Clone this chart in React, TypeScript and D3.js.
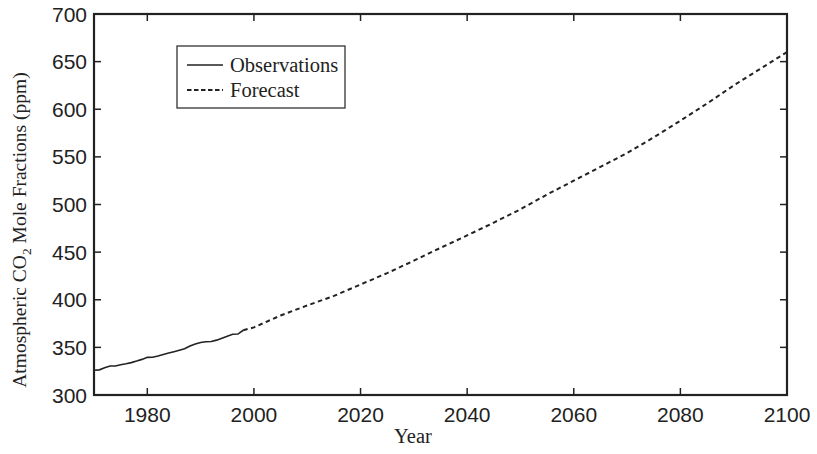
import React from "react";
import * as d3 from "d3";

const obsYears = [1970, 1971, 1972, 1973, 1974, 1975, 1976, 1977, 1978, 1979, 1980, 1981, 1982, 1983, 1984, 1985, 1986, 1987, 1988, 1989, 1990, 1991, 1992, 1993, 1994, 1995, 1996, 1997, 1998];
const obsValues = [326.0, 326.4, 328.5, 330.4, 330.5, 331.8, 332.8, 334.0, 335.6, 337.4, 339.5, 339.7, 341.0, 342.5, 344.0, 345.5, 347.0, 348.5, 351.5, 353.5, 355.2, 355.9, 356.2, 357.6, 359.6, 361.6, 363.7, 364.0, 368.0];

const fcYears = [1998, 2000, 2005, 2010, 2015, 2020, 2025, 2030, 2035, 2040, 2045, 2050, 2055, 2060, 2065, 2070, 2075, 2080, 2085, 2090, 2095, 2100];
const fcValues = [368, 371, 383.5, 394, 404, 416, 428, 441, 454.5, 467.5, 481, 495, 510.5, 525, 539.5, 554, 570.5, 588, 606, 625, 642.5, 660];

const xTicks = [1980, 2000, 2020, 2040, 2060, 2080, 2100];
const yTicks = [300, 350, 400, 450, 500, 550, 600, 650, 700];

const W = 817;
const H = 454;
const left = 94;
const right = 787;
const top = 14;
const bottom = 395;
const ink = "#222";

export default function App() {
  const x = d3.scaleLinear().domain([1970, 2100]).range([left, right]);
  const y = d3.scaleLinear().domain([300, 700]).range([bottom, top]);

  const line = d3
    .line<[number, number]>()
    .x((d) => x(d[0]))
    .y((d) => y(d[1]));

  const obs = obsYears.map((yr, i) => [yr, obsValues[i]] as [number, number]);
  const fc = fcYears.map((yr, i) => [yr, fcValues[i]] as [number, number]);

  const sans = "'Liberation Sans', Arial, sans-serif";
  const serif = "'Liberation Serif', 'Times New Roman', serif";

  return (
    <svg width={W} height={H} style={{ position: "absolute", left: 0, top: 0, background: "#fff" }}>
      <rect x={0} y={0} width={W} height={H} fill="#fff" />

      {/* ticks on all four sides, pointing inward */}
      {xTicks.map((t) => (
        <g key={"x" + t}>
          <line x1={x(t)} x2={x(t)} y1={bottom} y2={bottom - 7} stroke={ink} strokeWidth={1.5} />
          <line x1={x(t)} x2={x(t)} y1={top} y2={top + 7} stroke={ink} strokeWidth={1.5} />
          <text x={x(t)} y={422} textAnchor="middle" fontFamily={sans} fontSize={21} fill={ink}>
            {t}
          </text>
        </g>
      ))}
      {yTicks.map((t) => (
        <g key={"y" + t}>
          <line x1={left} x2={left + 7} y1={y(t)} y2={y(t)} stroke={ink} strokeWidth={1.5} />
          <line x1={right} x2={right - 7} y1={y(t)} y2={y(t)} stroke={ink} strokeWidth={1.5} />
          <text x={87} y={y(t)} dy="0.36em" textAnchor="end" fontFamily={sans} fontSize={21} fill={ink}>
            {t}
          </text>
        </g>
      ))}

      <rect x={left} y={top} width={right - left} height={bottom - top} fill="none" stroke={ink} strokeWidth={2.2} />

      <path d={line(obs) ?? ""} fill="none" stroke={ink} strokeWidth={1.6} />
      <path d={line(fc) ?? ""} fill="none" stroke={ink} strokeWidth={2} strokeDasharray="4.5 3.5" />

      {/* legend */}
      <rect x={177} y={46} width={168} height={62} fill="#fff" stroke={ink} strokeWidth={1.2} />
      <line x1={187} x2={223} y1={65} y2={65} stroke={ink} strokeWidth={1.6} />
      <line x1={187} x2={223} y1={90} y2={90} stroke={ink} strokeWidth={2} strokeDasharray="4.5 2.5" />
      <text x={230} y={65} dy="0.33em" fontFamily={serif} fontSize={20.5} fill={ink}>
        Observations
      </text>
      <text x={230} y={90} dy="0.33em" fontFamily={serif} fontSize={20.5} fill={ink}>
        Forecast
      </text>

      {/* axis titles */}
      <text x={413} y={443} textAnchor="middle" fontFamily={serif} fontSize={20.5} fill={ink}>
        Year
      </text>
      <text
        transform="translate(26,230) rotate(-90)"
        textAnchor="middle"
        fontFamily={serif}
        fontSize={19.5}
        fill={ink}
      >
        Atmospheric CO
        <tspan fontSize={13.5} dy={5}>2</tspan>
        <tspan dy={-5}> Mole Fractions (ppm)</tspan>
      </text>
    </svg>
  );
}
